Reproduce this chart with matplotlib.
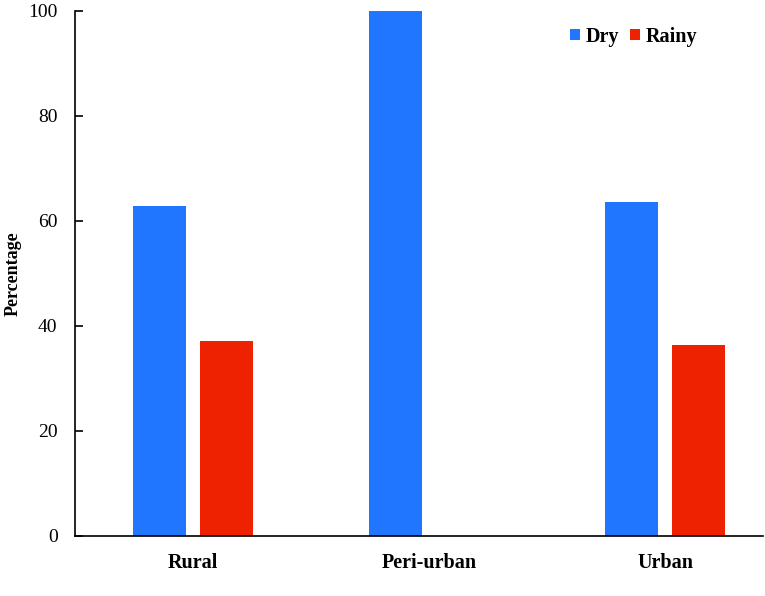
import numpy as np
import matplotlib.pyplot as plt

plt.rcParams['font.family'] = ['Liberation Serif', 'DejaVu Serif']

categories = ['Rural', 'Peri-urban', 'Urban']
dry = [62.8, 100.0, 63.6]
rainy = [37.1, 0.0, 36.4]

blue = '#2176FF'
red = '#EE2200'

fig = plt.figure(figsize=(7.65, 5.96), dpi=100)
ax = fig.add_axes([0.098, 0.1007, 0.8994, 0.8813])

x = np.arange(len(categories))
w = 0.2246
off = 0.142
ax.bar(x - off, dry, width=w, color=blue, label='Dry')
ax.bar(x + off, rainy, width=w, color=red, label='Rainy')

ax.set_xlim(-0.5, 2.415)
ax.set_ylim(0, 100)
ax.set_yticks([0, 20, 40, 60, 80, 100])
ax.tick_params(axis='y', direction='in', length=6, width=1.2, labelsize=14, pad=12.5)
ax.set_xticks(x)
ax.set_xticklabels(categories, fontsize=14.5, fontweight='bold')
ax.tick_params(axis='x', length=0, pad=12)
ax.set_ylabel('Percentage', fontsize=13, fontweight='bold')
ax.yaxis.set_label_coords(-0.078, 0.5)

for s in ['top', 'right']:
    ax.spines[s].set_visible(False)
for s in ['left', 'bottom']:
    ax.spines[s].set_linewidth(1.2)

leg = ax.legend(loc='upper right', bbox_to_anchor=(0.931, 1.004), ncol=2, frameon=False,
                prop={'weight': 'bold', 'size': 14.5}, handlelength=0.5, handleheight=0.5,
                handletextpad=0.3, columnspacing=0.5)

fig.savefig('out.png', dpi=100)
